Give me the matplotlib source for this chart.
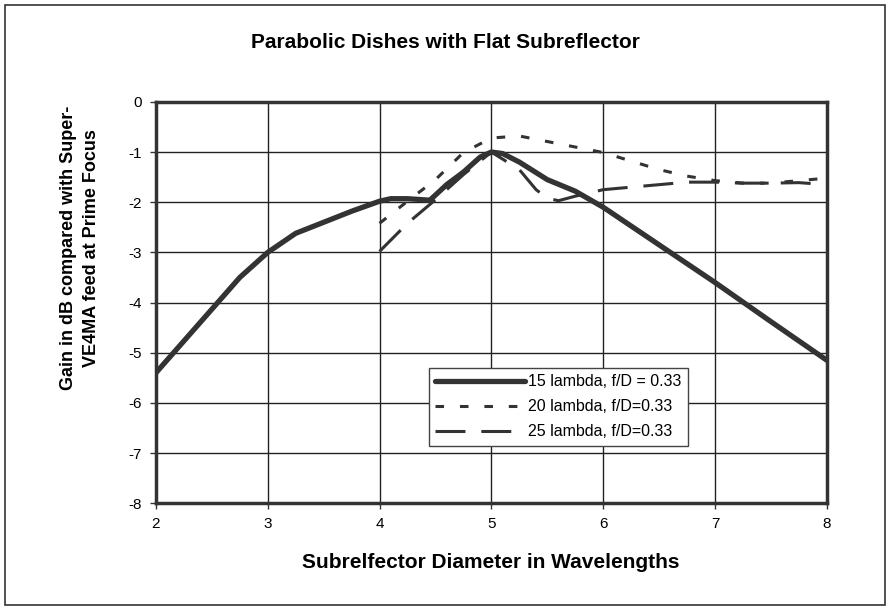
import matplotlib
matplotlib.use("Agg")
import matplotlib.pyplot as plt
from matplotlib.patches import Rectangle

plt.rcParams['font.family'] = ['Liberation Sans', 'DejaVu Sans']
plt.rcParams['axes.unicode_minus'] = False

# 15 lambda, f/D = 0.33
x15 = [2, 2.75, 3, 3.25, 3.5, 3.75, 4, 4.1, 4.25, 4.45, 4.6, 4.75, 4.9, 5, 5.1,
       5.25, 5.5, 5.75, 6, 6.5, 7, 7.5, 8]
y15 = [-5.4, -3.5, -3.0, -2.62, -2.4, -2.18, -1.98, -1.93, -1.93, -1.96, -1.65,
       -1.4, -1.1, -1.0, -1.03, -1.2, -1.55, -1.78, -2.1, -2.85, -3.6, -4.38, -5.15]

# 20 lambda, f/D = 0.33
x20 = [4, 4.25, 4.5, 4.75, 5, 5.25, 5.5, 5.75, 6, 6.25, 6.5, 6.75, 7, 7.25, 7.5, 7.75, 8]
y20 = [-2.42, -1.98, -1.55, -1.01, -0.72, -0.68, -0.79, -0.9, -1.01, -1.18, -1.35,
       -1.48, -1.57, -1.62, -1.62, -1.57, -1.52]

# 25 lambda, f/D = 0.33
x25 = [4, 4.25, 4.5, 4.75, 5, 5.25, 5.4, 5.5, 5.6, 5.75, 6, 6.25, 6.5, 6.75, 7,
       7.25, 7.5, 7.75, 8]
y25 = [-2.98, -2.42, -1.95, -1.45, -1.0, -1.35, -1.75, -1.92, -1.97, -1.88, -1.75,
       -1.7, -1.65, -1.6, -1.6, -1.62, -1.62, -1.61, -1.65]

labels = ['15 lambda, f/D = 0.33', '20 lambda, f/D=0.33', '25 lambda, f/D=0.33']
dark = '#333333'

fig = plt.figure(figsize=(8.91, 6.10), dpi=100)
ax = fig.add_axes([0.175, 0.175, 0.753, 0.658])

ax.plot(x15, y15, color=dark, lw=3.8, solid_capstyle='round', label=labels[0])
ax.plot(x20, y20, color=dark, lw=2.2, dashes=(2.8, 5.2), label=labels[1])
ax.plot(x25, y25, color=dark, lw=2.2, dashes=(9.8, 5.2), label=labels[2])

ax.set_xlim(2, 8)
ax.set_ylim(-8, 0)
ax.set_xticks(range(2, 9))
ax.set_yticks(range(-8, 1))
ax.grid(True, color='#222222', lw=1.0)
ax.set_axisbelow(True)
for s in ax.spines.values():
    s.set_linewidth(2.5)
    s.set_color(dark)
ax.tick_params(direction='out', length=4, width=1, color=dark, labelsize=11, pad=6)

fig.text(491 / 891, 1 - 563 / 610, 'Subrelfector Diameter in Wavelengths',
         ha='center', va='center', fontsize=15, fontweight='bold')
fig.text(80 / 891, 1 - 248 / 610,
         'Gain in dB compared with Super-\nVE4MA feed at Prime Focus',
         ha='center', va='center', rotation=90, fontsize=13, fontweight='bold',
         linespacing=1.4)
fig.text(0.5, 0.931, 'Parabolic Dishes with Flat Subreflector', ha='center',
         va='center', fontsize=15, fontweight='bold')

leg = ax.legend(loc='upper left', bbox_to_anchor=(0.407, 0.337), fontsize=11.5,
                handlelength=5.6, fancybox=False, framealpha=1, edgecolor='#444444',
                borderpad=0.4, labelspacing=0.62, handletextpad=0.2,
                borderaxespad=0)
leg.get_frame().set_linewidth(1.0)

fig.patches.append(Rectangle((5 / 891, 5 / 610), 880 / 891, 600 / 610,
                             transform=fig.transFigure, fill=False,
                             edgecolor=dark, lw=1.2))

fig.savefig('out.png', dpi=100)
